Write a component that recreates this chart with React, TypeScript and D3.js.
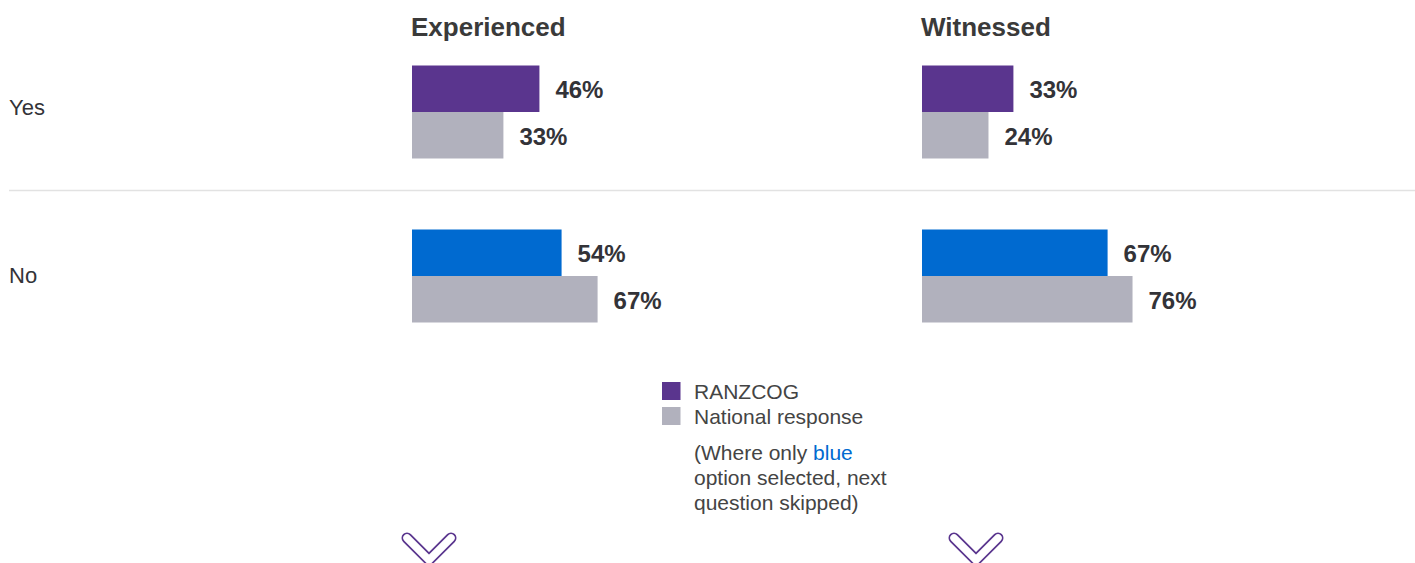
import * as d3 from "d3";

const columns = ["Experienced", "Witnessed"];
const rows = ["Yes", "No"];
const seriesNames = ["RANZCOG", "National response"];

// values per row (Yes, No)
const ranzcogExperienced = [46, 54];
const nationalExperienced = [33, 67];
const ranzcogWitnessed = [33, 67];
const nationalWitnessed = [24, 76];

const noteLines = ["(Where only ", "option selected, next", "question skipped)"];

const PURPLE = "#5a358e";
const BLUE = "#006ad0";
const GREY = "#b1b1bd";
const TEXT = "#333338";
const FONT = "'Liberation Sans', Arial, Helvetica, sans-serif";

const W = 1415;
const H = 563;

const App = () => {
  const x = d3.scaleLinear().domain([0, 100]).range([0, 277]);
  const colX = d3.scaleBand().domain(columns).range([412, 1432]);
  const rowY = d3.scaleBand().domain(rows).range([30, 358]);
  const inner = d3.scaleBand().domain(seriesNames).range([-46.5, 46.5]);

  const values: Record<string, number[][]> = {
    Experienced: [ranzcogExperienced, nationalExperienced],
    Witnessed: [ranzcogWitnessed, nationalWitnessed],
  };

  const bars: any[] = [];
  columns.forEach((col) => {
    rows.forEach((row, ri) => {
      seriesNames.forEach((s, si) => {
        const v = values[col][si][ri];
        const fill = si === 1 ? GREY : ri === 0 ? PURPLE : BLUE;
        bars.push({ col, row, s, v, fill });
      });
    });
  });

  const rowCenter = (r: string) => (rowY(r) as number) + rowY.bandwidth() / 2;

  const chevrons = [429, 976];

  return (
    <div style={{ position: "absolute", left: 0, top: 0 }}>
      <svg width={W} height={H} style={{ display: "block", fontFamily: FONT }}>
        {/* column headers */}
        {columns.map((c) => (
          <text key={c} x={(colX(c) as number) - 1} y={36} fontSize={26} fontWeight="bold" fill="#3a3a3a">
            {c}
          </text>
        ))}

        {/* row labels */}
        {rows.map((r, i) => (
          <text key={r} x={9} y={rowCenter(r) - (i === 0 ? 4.5 : 0.5)} fontSize={22} fill={TEXT} dominantBaseline="central">
            {r}
          </text>
        ))}

        {/* separator */}
        <line x1={9} x2={W} y1={(rowY("No") as number) - 3.5} y2={(rowY("No") as number) - 3.5} stroke="#e2e2e2" strokeWidth={1.5} />

        {/* bars */}
        {bars.map((b, i) => {
          const x0 = colX(b.col) as number;
          const y0 = rowCenter(b.row) + (inner(b.s) as number);
          const w = x(b.v);
          return (
            <g key={i}>
              <rect x={x0} y={y0} width={w} height={inner.bandwidth()} fill={b.fill} />
              <text
                x={x0 + w + 16}
                y={y0 + inner.bandwidth() / 2 + 1}
                fontSize={24}
                fontWeight="bold"
                fill={TEXT}
                dominantBaseline="central"
              >
                {b.v}%
              </text>
            </g>
          );
        })}

        {/* legend */}
        {seriesNames.map((s, i) => (
          <g key={s} transform={`translate(662, ${382 + i * 25})`}>
            <rect width={18.5} height={18} fill={i === 0 ? PURPLE : GREY} />
            <text x={32} y={9.5} fontSize={21} fill="#444" dominantBaseline="central">
              {s}
            </text>
          </g>
        ))}
        <g fontSize={21} fill="#444">
          <text x={694} y={460}>
            {noteLines[0]}
            <tspan fill={BLUE}>blue</tspan>
          </text>
          <text x={694} y={485}>{noteLines[1]}</text>
          <text x={694} y={510}>{noteLines[2]}</text>
        </g>

        {/* chevrons */}
        {chevrons.map((cx) => {
          const d = `M${cx - 22},${538} L${cx},${560} L${cx + 22},${538}`;
          return (
            <g key={cx} fill="none" strokeLinecap="round" strokeLinejoin="round">
              <path d={d} stroke={PURPLE} strokeWidth={11} />
              <path d={d} stroke="#fff" strokeWidth={7.5} />
            </g>
          );
        })}
      </svg>
    </div>
  );
};

export default App;
